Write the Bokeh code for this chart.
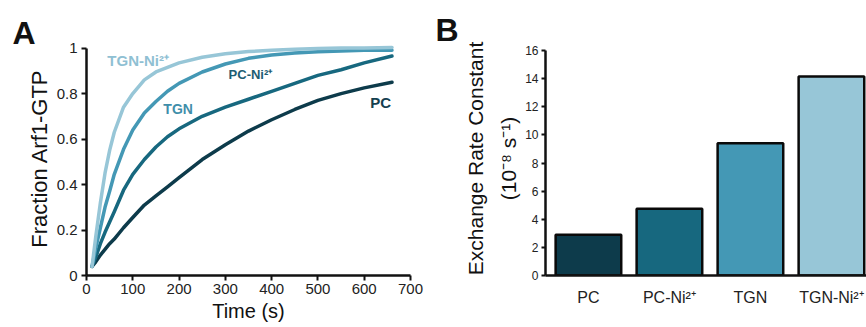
from bokeh.plotting import figure
from bokeh.models import Range1d, FixedTicker, NumeralTickFormatter, Label, Title
from bokeh.layouts import row
from bokeh.embed import file_html
from bokeh.resources import INLINE

# ---------------- data: panel A (kinetic traces) ----------------
time_s = [12, 20, 30, 40, 50, 60, 80, 100, 125, 150, 175, 200, 250, 300,
          350, 400, 450, 500, 550, 600, 660]
frac_tgn_ni = [0.04, 0.17, 0.32, 0.45, 0.55, 0.63, 0.74, 0.80, 0.86, 0.895,
               0.915, 0.935, 0.96, 0.975, 0.985, 0.99, 0.995, 0.998, 1.0,
               1.0, 1.003]
frac_tgn = [0.04, 0.12, 0.21, 0.30, 0.37, 0.445, 0.555, 0.64, 0.715, 0.765,
            0.81, 0.845, 0.895, 0.93, 0.955, 0.97, 0.978, 0.984, 0.987,
            0.99, 0.99]
frac_pc_ni = [0.04, 0.08, 0.14, 0.19, 0.235, 0.28, 0.375, 0.445, 0.51,
              0.565, 0.61, 0.645, 0.70, 0.74, 0.775, 0.81, 0.845, 0.88,
              0.905, 0.935, 0.965]
frac_pc = [0.04, 0.06, 0.09, 0.115, 0.14, 0.16, 0.21, 0.255, 0.31, 0.35,
           0.39, 0.43, 0.51, 0.575, 0.635, 0.685, 0.73, 0.77, 0.80, 0.825,
           0.85]

x_ticks_a = [0, 100, 200, 300, 400, 500, 600, 700]
y_ticks_a = [0, 0.2, 0.4, 0.6, 0.8, 1.0]

# ---------------- data: panel B (rate constants) ----------------
conditions = ["PC", "PC-Ni²⁺", "TGN", "TGN-Ni²⁺"]
rate_constants = [2.9, 4.75, 9.4, 14.15]
y_ticks_b = [0, 2, 4, 6, 8, 10, 12, 14, 16]

# ---------------- styles ----------------
c_pc = "#0d3b4b"
c_pc_ni = "#17687f"
c_tgn = "#4498b5"
c_tgn_ni = "#97c6d7"

FONT = "Liberation Sans"
TOP = 41      # common top border (frames aligned)
BOTTOM = 52   # common bottom border


def style_axes(p):
    for ax in (p.xaxis[0], p.yaxis[0]):
        ax.axis_line_width = 2.5
        ax.axis_line_color = "#111111"
        ax.major_tick_line_width = 2
        ax.major_tick_line_color = "#111111"
        ax.major_tick_in = 0
        ax.minor_tick_line_color = None
        ax.major_label_text_font = FONT
        ax.major_label_text_color = "#222222"
        ax.axis_label_text_font = FONT
        ax.axis_label_text_font_style = "normal"
        ax.axis_label_text_color = "#111111"
    p.grid.visible = False
    p.outline_line_color = None
    p.background_fill_color = "white"
    p.border_fill_color = "white"


def panel_letter(p, letter, offset, standoff):
    t = Title(text=letter, text_font=FONT, text_font_size="32px",
              text_font_style="bold", align="left", offset=offset,
              text_color="#111111")
    try:
        t.standoff = standoff
    except Exception:
        t.standoff = 0
    p.add_layout(t, "above")


# ---------------- panel A ----------------
pa = figure(width=430, height=327, output_backend="svg", toolbar_location=None,
            x_range=Range1d(0, 700), y_range=Range1d(0, 1.029),
            min_border_left=86, min_border_right=20, min_border_top=TOP,
            min_border_bottom=BOTTOM)
style_axes(pa)

series = [
    (frac_pc, c_pc),
    (frac_pc_ni, c_pc_ni),
    (frac_tgn, c_tgn),
    (frac_tgn_ni, c_tgn_ni),
]
for ys, col in series:
    pa.line(time_s, ys, line_color=col, line_width=3.5, line_join="round",
            line_cap="round")

pa.xaxis.ticker = FixedTicker(ticks=x_ticks_a)
pa.yaxis.ticker = FixedTicker(ticks=y_ticks_a)
pa.yaxis.formatter = NumeralTickFormatter(format="0.[0]")
pa.yaxis.bounds = (0, 1)
pa.xaxis.major_tick_out = 5
pa.yaxis.major_tick_out = 5
pa.xaxis.major_label_text_font_size = "15px"
pa.yaxis.major_label_text_font_size = "15px"
pa.xaxis.major_label_standoff = 3
pa.yaxis.major_label_standoff = 4
pa.xaxis.axis_label = "Time (s)"
pa.xaxis.axis_label_text_font_size = "20px"
pa.xaxis.axis_label_standoff = 3
pa.yaxis.axis_label = "Fraction Arf1-GTP"
pa.yaxis.axis_label_text_font_size = "22px"
pa.yaxis.axis_label_standoff = 2

panel_letter(pa, "A", -74, -19)

curve_labels = [
    (45, 0.946, "TGN-Ni²⁺", "#8fc0d3", "15px"),
    (166, 0.731, "TGN", "#3f8eaa", "14px"),
    (307, 0.884, "PC-Ni²⁺", "#1d5d73", "13px"),
    (613, 0.762, "PC", "#153f4f", "15px"),
]
for lx, ly, txt, col, fs in curve_labels:
    pa.add_layout(Label(x=lx, y=ly, text=txt, text_font=FONT,
                        text_font_size=fs, text_font_style="bold",
                        text_color=col, text_baseline="middle",
                        text_align="left"))

# ---------------- panel B ----------------
pb = figure(width=436, height=327, output_backend="svg", toolbar_location=None,
            x_range=Range1d(-0.03, 3.933), y_range=Range1d(0, 16.64),
            min_border_left=115, min_border_right=0, min_border_top=TOP,
            min_border_bottom=BOTTOM)
style_axes(pb)

bar_x = [i + 0.5 for i in range(len(conditions))]
pb.vbar(x=bar_x, top=rate_constants, bottom=0, width=0.81,
        fill_color=[c_pc, c_pc_ni, c_tgn, c_tgn_ni],
        line_color="#0a0a0a", line_width=2.5)

pb.xaxis.ticker = FixedTicker(ticks=bar_x)
pb.xaxis.major_label_overrides = {bx: c for bx, c in zip(bar_x, conditions)}
pb.xaxis.major_tick_line_color = None
pb.xaxis.major_tick_out = 0
pb.xaxis.major_label_standoff = 13
pb.xaxis.major_label_text_font_size = "16px"
pb.yaxis.ticker = FixedTicker(ticks=y_ticks_b)
pb.yaxis.bounds = (0, 16)
pb.yaxis.major_tick_out = 4
pb.yaxis.major_label_standoff = 3
pb.yaxis.major_label_text_font_size = "12px"
pb.yaxis.axis_label = "Exchange Rate Constant\n(10⁻⁸ s⁻¹)"
pb.yaxis.axis_label_text_font_size = "21px"
pb.yaxis.axis_label_text_line_height = 1.43
pb.yaxis.axis_label_standoff = 2

panel_letter(pb, "B", -110, -13)

layout = row(pa, pb)
open("out.html", "w").write(file_html(layout, INLINE))
